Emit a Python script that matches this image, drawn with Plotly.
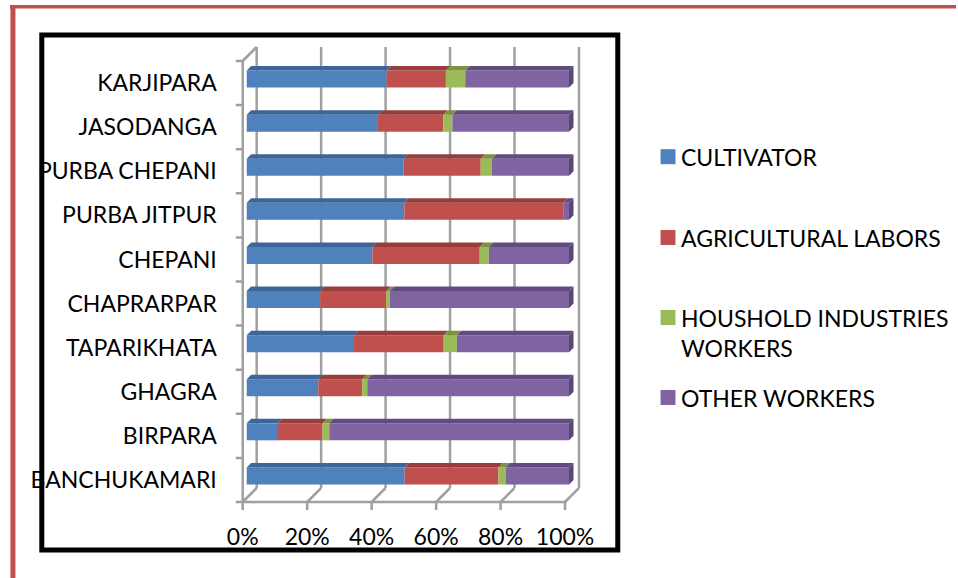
import plotly.graph_objects as go

# ---------------- data (top to bottom as in the chart) ----------------
villages = ["KARJIPARA", "JASODANGA", "PURBA CHEPANI", "PURBA JITPUR", "CHEPANI",
            "CHAPRARPAR", "TAPARIKHATA", "GHAGRA", "BIRPARA", "BANCHUKAMARI"]
cultivator = [43.4, 40.7, 48.7, 48.9, 39.0, 22.8, 33.3, 22.2, 9.7, 49.0]
agri_labors = [18.4, 20.3, 23.9, 49.3, 33.3, 20.5, 27.8, 13.6, 13.8, 29.1]
household = [6.0, 2.8, 3.5, 0.0, 2.8, 1.1, 4.1, 1.6, 2.1, 2.2]
other = [32.2, 36.2, 23.9, 1.8, 24.9, 55.6, 34.8, 62.6, 74.4, 19.7]
series_names = ["CULTIVATOR", "AGRICULTURAL LABORS", "HOUSHOLD INDUSTRIES<br>WORKERS", "OTHER WORKERS"]
x_ticks = [0, 20, 40, 60, 80, 100]
x_tick_labels = ["0%", "20%", "40%", "60%", "80%", "100%"]

# ---------------- style ----------------
front_cols = ["#4f81bd", "#c0504d", "#9bbb59", "#8064a2"]
top_cols = ["#3c6699", "#973e3c", "#78943f", "#604c80"]
side_col = "#5a4677"
FONT = "Lato"
FS = 23
W, H = 958, 578

# pixel geometry helpers
PXX = 3.24   # px per percent (front plane)
PXY = 44.1   # px per category
X0PX, Y0PX = 241, 502  # px of (0%, bottom boundary)
xpx_l, xpx_r = 228, 592
ypx_t, ypx_b = 40, 512
x_range = [(xpx_l - X0PX) / PXX, (xpx_r - X0PX) / PXX]
y_range = [-0.5 - (ypx_b - Y0PX) / PXY, -0.5 + (Y0PX - ypx_t) / PXY]

DX, DY = 14 / PXX, 14 / PXY          # full depth of floor/wall
FX, FY = 4 / PXX, 4 / PXY            # bar front-face offset
TDX, TDY = 4.5 / PXX, 4.5 / PXY      # bar depth
HH = 8.5 / PXY                       # half bar height

n = len(villages)
ypos = [n - 1 - i for i in range(n)]  # top row gets highest index
data = [cultivator, agri_labors, household, other]

fig = go.Figure()

# front faces
cum = [0.0] * n
for s, vals in enumerate(data):
    fig.add_trace(go.Bar(
        orientation="h", y=[p + FY for p in ypos], x=vals,
        base=[c + FX for c in cum], width=2 * HH,
        marker=dict(color=front_cols[s], line=dict(width=0)),
        name=series_names[s].replace("<br>", " "), showlegend=False,
        hovertemplate="%{x:.1f}%<extra>" + series_names[s].replace("<br>", " ") + "</extra>"))
    cum = [c + v for c, v in zip(cum, vals)]

# top faces
cum = [0.0] * n
for s, vals in enumerate(data):
    xs, ys = [], []
    for i in range(n):
        v = vals[i]
        if v > 0:
            x0 = cum[i] + FX
            x1 = cum[i] + v + FX
            yt = ypos[i] + FY + HH
            xs += [x0, x1, x1 + TDX, x0 + TDX, x0, None]
            ys += [yt, yt, yt + TDY, yt + TDY, yt, None]
    fig.add_trace(go.Scatter(x=xs, y=ys, mode="lines", fill="toself",
                             fillcolor=top_cols[s], line=dict(width=0, color=top_cols[s]),
                             hoverinfo="skip", showlegend=False))
    cum = [c + v for c, v in zip(cum, vals)]

# right end faces
xs, ys = [], []
for i in range(n):
    xr = cum[i] + FX
    yb = ypos[i] + FY - HH
    yt = ypos[i] + FY + HH
    xs += [xr, xr + TDX, xr + TDX, xr, xr, None]
    ys += [yb, yb + TDY, yt + TDY, yt, yb, None]
fig.add_trace(go.Scatter(x=xs, y=ys, mode="lines", fill="toself", fillcolor=side_col,
                         line=dict(width=0, color=side_col), hoverinfo="skip", showlegend=False))

shapes = []
grid = dict(color="#a0a0a0", width=2.5)
ybot, ytop = -0.5, n - 0.5
# back wall vertical gridlines and floor diagonals, bottom ticks
for t in x_ticks:
    shapes.append(dict(type="line", xref="x", yref="y", x0=t + DX, x1=t + DX,
                       y0=ybot + DY, y1=ytop + DY, line=grid, layer="below"))
    shapes.append(dict(type="line", xref="x", yref="y", x0=t, x1=t + DX,
                       y0=ybot, y1=ybot + DY, line=grid, layer="below"))
    shapes.append(dict(type="line", xref="x", yref="y", x0=t, x1=t,
                       y0=ybot, y1=ybot - 8 / PXY, line=grid, layer="below"))
# front floor edge
shapes.append(dict(type="line", xref="x", yref="y", x0=0, x1=100, y0=ybot, y1=ybot,
                   line=grid, layer="below"))
# left wall
shapes.append(dict(type="line", xref="x", yref="y", x0=0, x1=0, y0=ybot, y1=ytop,
                   line=grid, layer="below"))
shapes.append(dict(type="line", xref="x", yref="y", x0=0, x1=DX, y0=ytop, y1=ytop + DY,
                   line=grid, layer="below"))
for k in range(n + 1):
    shapes.append(dict(type="line", xref="x", yref="y", x0=0, x1=-7 / PXX,
                       y0=k - 0.5, y1=k - 0.5, line=grid, layer="below"))


def px(x):
    return x / W


def py(y):
    return 1 - y / H


# page border (red) and chart box (black)
shapes.append(dict(type="line", xref="paper", yref="paper", x0=px(7), x1=px(W),
                   y0=py(6.7), y1=py(6.7), line=dict(color="#c0504d", width=3.5)))
shapes.append(dict(type="line", xref="paper", yref="paper", x0=px(10), x1=px(10),
                   y0=py(5), y1=py(H), line=dict(color="#c0504d", width=5)))
shapes.append(dict(type="rect", xref="paper", yref="paper", x0=px(39), x1=px(618),
                   y0=py(35), y1=py(550), line=dict(color="black", width=5)))

# legend
leg_y = [156.7, 237.5, 333, 397.5]
sq_y = [156.7, 237.5, 317.5, 397.5]
annotations = []
for s in range(4):
    shapes.append(dict(type="rect", xref="paper", yref="paper", x0=px(661), x1=px(676),
                       y0=py(sq_y[s] + 7.5), y1=py(sq_y[s] - 7.5),
                       fillcolor=front_cols[s], line=dict(width=0)))
    annotations.append(dict(xref="paper", yref="paper", x=px(680), y=py(leg_y[s]),
                            xanchor="left", yanchor="middle", align="left",
                            text=series_names[s], showarrow=False,
                            font=dict(family=FONT, size=FS, color="black")))

fig.update_layout(
    width=W, height=H, margin=dict(l=0, r=0, t=0, b=0),
    paper_bgcolor="white", plot_bgcolor="rgba(0,0,0,0)",
    barmode="overlay", showlegend=False,
    shapes=shapes, annotations=annotations,
    font=dict(family=FONT, size=FS, color="black"),
    xaxis=dict(domain=[px(xpx_l), px(xpx_r)], range=x_range, tickvals=x_ticks,
               ticktext=x_tick_labels, showgrid=False, zeroline=False, showline=False,
               ticks="", ticklabelstandoff=9, fixedrange=True,
               tickfont=dict(family=FONT, size=FS, color="black")),
    yaxis=dict(domain=[py(ypx_b), py(ypx_t)], range=y_range, tickvals=ypos,
               ticktext=villages, showgrid=False, zeroline=False, showline=False,
               ticks="", ticklabelstandoff=12, fixedrange=True,
               tickfont=dict(family=FONT, size=FS, color="black")),
)

fig.write_html("out.html")
